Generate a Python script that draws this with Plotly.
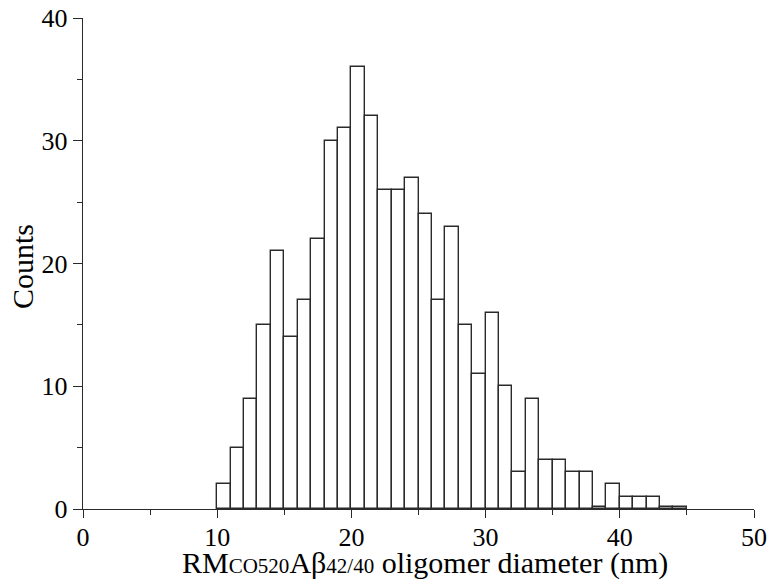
import plotly.graph_objects as go

# Histogram bins (nm), lower edges of 1-nm-wide bins
bin_left = list(range(10, 45))
counts = [2, 5, 9, 15, 21, 14, 17, 22, 30, 31,
          36, 32, 26, 26, 27, 24, 17, 23, 15, 11,
          16, 10, 3, 9, 4, 4, 3, 3, 0.15, 2,
          1, 1, 1, 0.15, 0.15]
bin_centers = [b + 0.5 for b in bin_left]

x_ticks = [0, 10, 20, 30, 40, 50]
y_ticks = [0, 10, 20, 30, 40]

x_title = ('RM<span style="font-size:21px">CO520</span>Aβ'
           '<span style="font-size:21px">42/40</span> oligomer diameter (nm)')
y_title = "Counts"

line_col = "#2a2a2a"
font_family = "Liberation Serif, Times New Roman, serif"

fig = go.Figure(go.Bar(
    x=bin_centers,
    y=counts,
    width=1,
    marker=dict(color="white", line=dict(color=line_col, width=1.4)),
    showlegend=False,
))

fig.update_layout(
    width=769, height=581,
    margin=dict(l=83, r=15, t=18, b=72),
    paper_bgcolor="white",
    plot_bgcolor="white",
    font=dict(family=font_family, color="black", size=26),
    bargap=0,
)

fig.update_xaxes(
    range=[0, 50],
    automargin=False,
    tickvals=x_ticks,
    ticktext=[str(v) for v in x_ticks],
    ticks="outside", ticklen=8, tickwidth=1.3, tickcolor=line_col,
    minor=dict(ticks="outside", ticklen=5, dtick=5, tick0=0, tickcolor=line_col, tickwidth=1.3),
    showline=True, linecolor=line_col, linewidth=1.4,
    showgrid=False, zeroline=False,
    ticklabelstandoff=-3,
    tickfont=dict(size=26, family=font_family, color="black"),
)

fig.update_yaxes(
    range=[0, 40],
    automargin=False,
    tickvals=y_ticks,
    ticktext=[str(v) for v in y_ticks],
    ticks="outside", ticklen=9, tickwidth=1.3, tickcolor=line_col,
    minor=dict(ticks="outside", ticklen=5, dtick=5, tick0=0, tickcolor=line_col, tickwidth=1.3),
    showline=True, linecolor=line_col, linewidth=1.4,
    showgrid=False, zeroline=False,
    tickfont=dict(size=26, family=font_family, color="black"),
)

fig.add_annotation(
    text=x_title, xref="paper", yref="paper", x=0.5097, y=0,
    xanchor="center", yanchor="top", yshift=-35, showarrow=False,
    font=dict(size=30, family=font_family, color="black"),
)
fig.add_annotation(
    text=y_title, xref="paper", yref="paper", x=0, y=0.4929,
    xanchor="center", yanchor="middle", xshift=-60, textangle=-90, showarrow=False,
    font=dict(size=30, family=font_family, color="black"),
)

fig.write_html("out.html")
